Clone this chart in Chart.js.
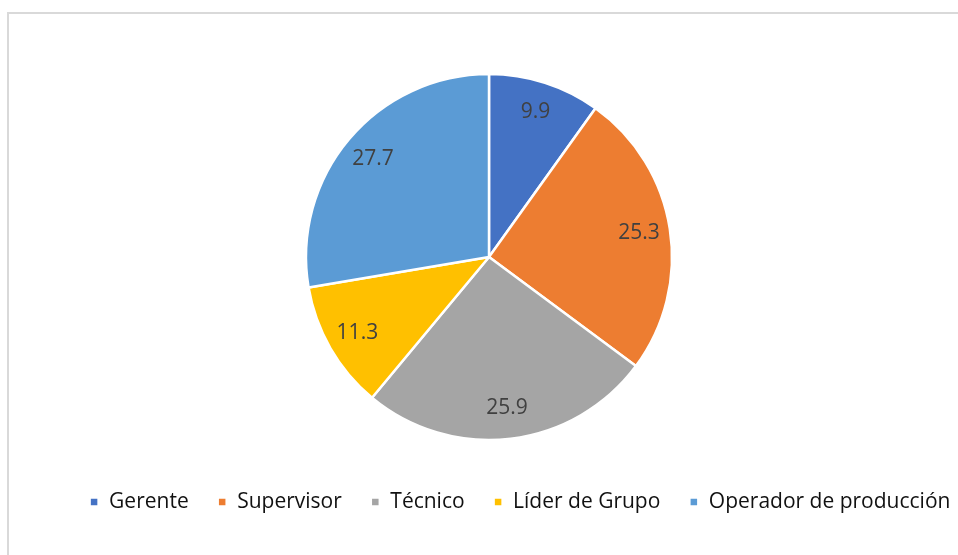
<!DOCTYPE html>
<html>
<head>
<meta charset="utf-8">
<script src="https://cdn.jsdelivr.net/npm/chart.js@4.4.1/dist/chart.umd.min.js"></script>
<style>
    html, body { margin: 0; padding: 0; background: #ffffff; }
    #wrap { position: relative; width: 958px; height: 555px; overflow: hidden; }
    #frame {
        position: absolute; left: 7px; top: 12px; width: 1000px; height: 600px;
        border-top: 2px solid #d9d9d9; border-left: 2px solid #d9d9d9;
    }
    #chart { position: absolute; left: 0; top: 0; }
</style>
</head>
<body>
<div id="wrap">
    <div id="frame"></div>
    <canvas id="chart" width="958" height="555"></canvas>
</div>
<script>
// datos del gráfico
const categories = ['Gerente', 'Supervisor', 'Técnico', 'Líder de Grupo', 'Operador de producción'];
const values = [9.9, 25.3, 25.9, 11.3, 27.7];
const sliceColors = ['#4472C4', '#ED7D31', '#A5A5A5', '#FFC000', '#5B9BD5'];

// etiquetas de valor dentro de cada porción
const sliceLabels = {
    id: 'sliceLabels',
    afterDatasetsDraw(chart) {
        const ctx = chart.ctx;
        const meta = chart.getDatasetMeta(0);
        ctx.save();
        ctx.font = '21px "Open Sans"';
        ctx.fillStyle = '#404040';
        ctx.textAlign = 'center';
        ctx.textBaseline = 'middle';
        meta.data.forEach((arc, i) => {
            const { x, y, startAngle, endAngle, outerRadius } = arc.getProps(['x', 'y', 'startAngle', 'endAngle', 'outerRadius'], true);
            const mid = (startAngle + endAngle) / 2;
            const r = outerRadius * 0.83;
            ctx.fillText(values[i].toFixed(1), x + Math.cos(mid) * r, y + Math.sin(mid) * r);
        });
        ctx.restore();
    }
};

// la leyenda del original no está centrada bajo el pastel
const legendShift = {
    id: 'legendShift',
    afterLayout(chart) {
        chart.legend.left += 31;
        chart.legend.right += 31;
    }
};

const ctx = document.getElementById('chart').getContext('2d');
new Chart(ctx, {
    type: 'pie',
    data: {
        labels: categories,
        datasets: [{
            data: values,
            backgroundColor: sliceColors,
            borderColor: '#ffffff',
            borderWidth: 2.5,
            radius: 183
        }]
    },
    options: {
        responsive: false,
        animation: false,
        layout: {
            padding: { left: 20, right: 0, top: 51.5, bottom: 32.5 }
        },
        plugins: {
            legend: {
                position: 'bottom',
                labels: {
                    boxWidth: 9,
                    boxHeight: 9,
                    padding: 29,
                    color: '#111111',
                    font: { family: '"Open Sans"', size: 21 }
                }
            },
            tooltip: { enabled: false }
        }
    },
    plugins: [sliceLabels, legendShift]
});
</script>
</body>
</html>
